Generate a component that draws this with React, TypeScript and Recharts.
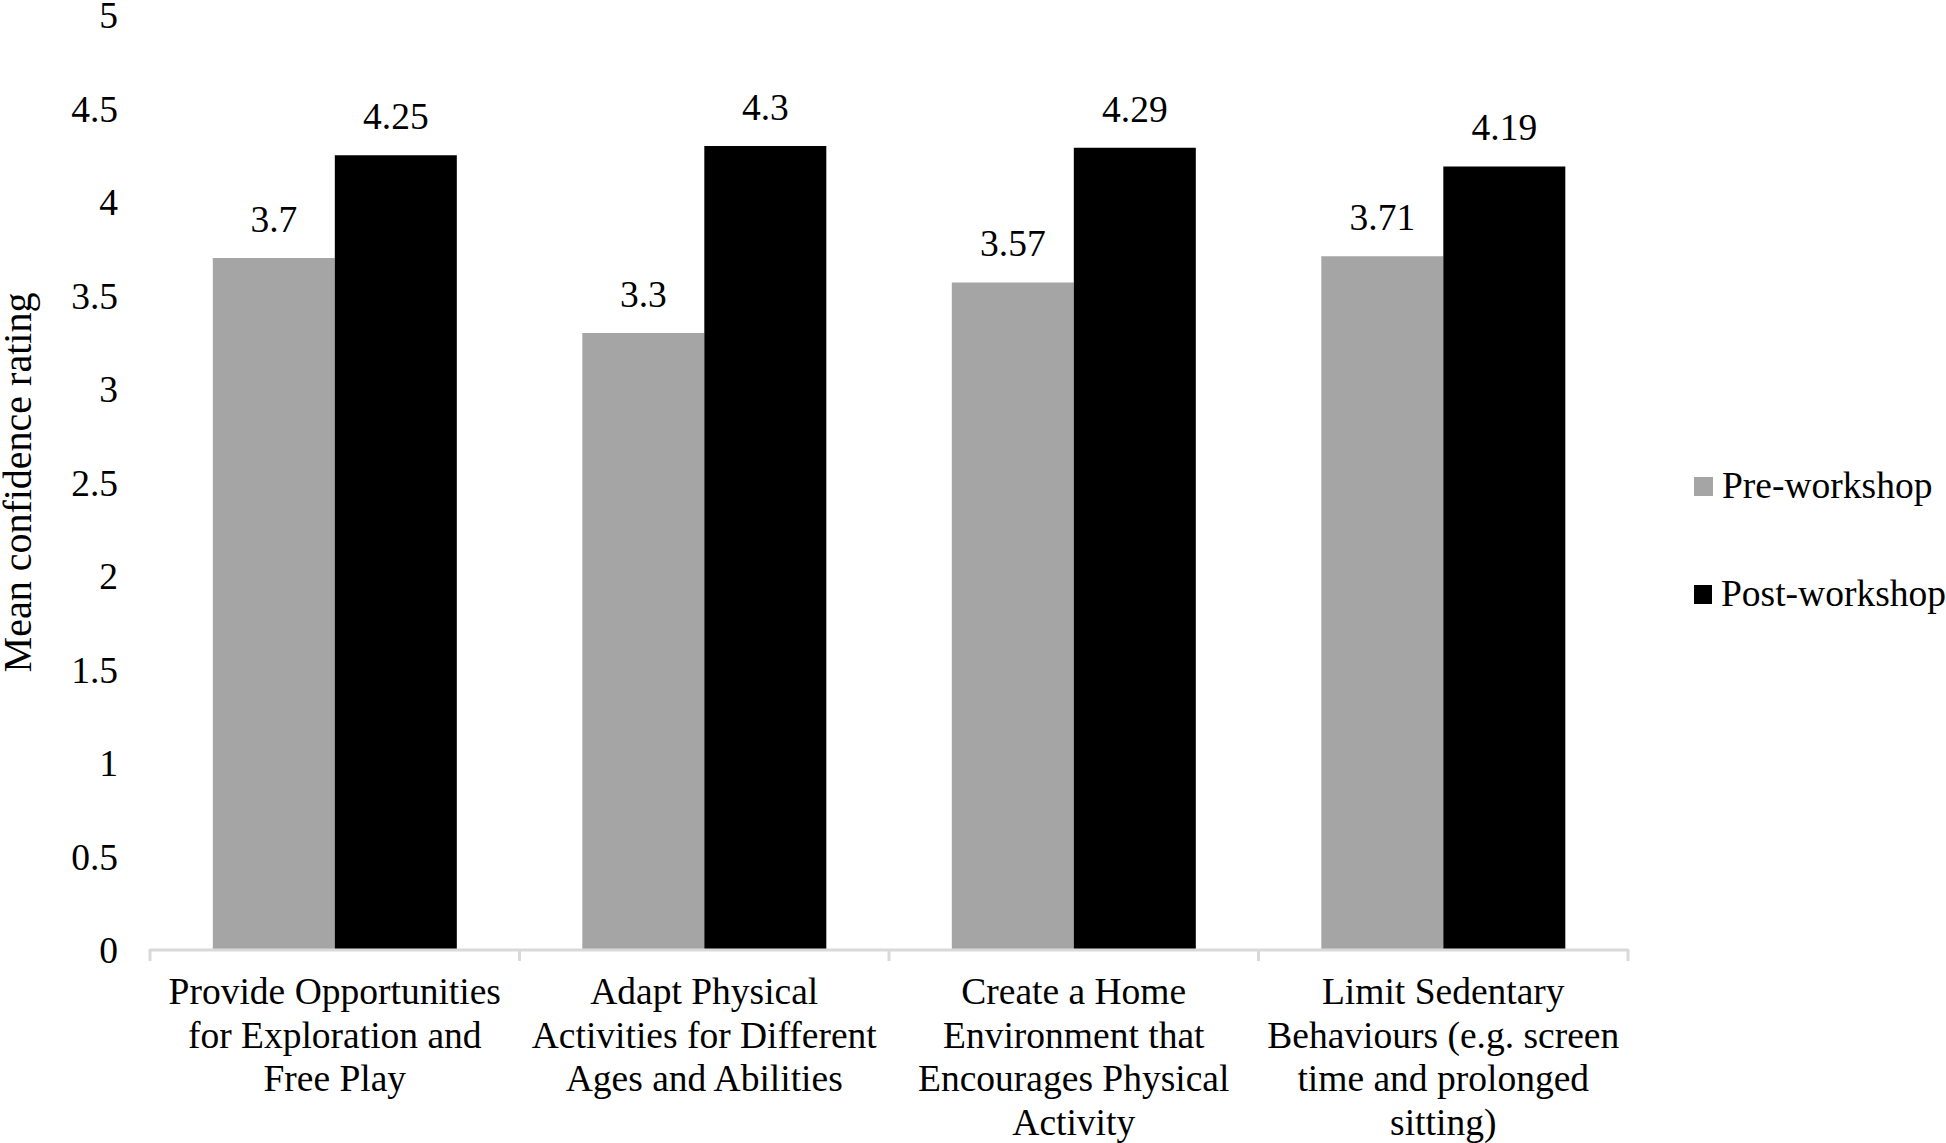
import React from "react";
import { BarChart, Bar, XAxis, YAxis, LabelList, Legend } from "recharts";

const categories = [
  "Provide Opportunities for Exploration and Free Play",
  "Adapt Physical Activities for Different Ages and Abilities",
  "Create a Home Environment that Encourages Physical Activity",
  "Limit Sedentary Behaviours (e.g. screen time and prolonged sitting)",
];
const categoryLines = [
  ["Provide Opportunities", "for Exploration and", "Free Play"],
  ["Adapt Physical", "Activities for Different", "Ages and Abilities"],
  ["Create a Home", "Environment that", "Encourages Physical", "Activity"],
  ["Limit Sedentary", "Behaviours (e.g. screen", "time and prolonged", "sitting)"],
];
const preWorkshop = [3.7, 3.3, 3.57, 3.71];
const postWorkshop = [4.25, 4.3, 4.29, 4.19];
const yTicks = [0, 0.5, 1, 1.5, 2, 2.5, 3, 3.5, 4, 4.5, 5];
const seriesNames = ["Pre-workshop", "Post-workshop"];
const yLabel = "Mean confidence rating";

const data = categories.map((c, i) => ({
  name: c,
  pre: preWorkshop[i],
  post: postWorkshop[i],
}));

const FONT = "'Liberation Serif', 'Times New Roman', serif";
const FS = 37.5;
const FS_TITLE = 40;
const W = 1946;
const H = 1143;
const X_AXIS_H = 193;
const MARGIN = { top: 15, right: 318, bottom: 0, left: 0 };
const Y_AXIS_W = 150;
const AXIS_GRAY = "#d9d9d9";

const XTick = (props: any) => {
  const { x, y, payload, index } = props;
  const plotW = W - MARGIN.left - MARGIN.right - Y_AXIS_W;
  const half =
    payload && typeof payload.offset === "number" && payload.offset > 0
      ? payload.offset
      : plotW / categories.length / 2;
  const lines: string[] = categoryLines[index] || [String(payload.value)];
  const isLast = index === categories.length - 1;
  return (
    <g>
      <line x1={x - half} x2={x - half} y1={y - 1} y2={y + 11} stroke={AXIS_GRAY} strokeWidth={3} />
      {isLast && (
        <line x1={x + half} x2={x + half} y1={y - 1} y2={y + 11} stroke={AXIS_GRAY} strokeWidth={3} />
      )}
      <text x={x} y={y + 54} textAnchor="middle" fill="#000" fontSize={FS} fontFamily={FONT}>
        {lines.map((l, i) => (
          <tspan key={i} x={x} dy={i === 0 ? 0 : 43.5}>
            {l}
          </tspan>
        ))}
      </text>
    </g>
  );
};

const YLabelContent = (props: any) => {
  const vb = props.viewBox || { x: 0, y: MARGIN.top, height: H - MARGIN.top - X_AXIS_H };
  const cx = 31;
  const cy = vb.y + vb.height / 2;
  return (
    <text
      x={cx}
      y={cy}
      transform={`rotate(-90, ${cx}, ${cy})`}
      textAnchor="middle"
      fill="#000"
      fontSize={FS_TITLE}
      fontFamily={FONT}
    >
      {yLabel}
    </text>
  );
};

const LegendContent = (props: any) => {
  const payload = [...(props.payload || [])].sort(
    (a: any, b: any) => seriesNames.indexOf(a.value) - seriesNames.indexOf(b.value)
  );
  return (
    <div style={{ fontFamily: FONT, fontSize: FS, color: "#000" }}>
      {payload.map((p: any, i: number) => (
        <div
          key={i}
          style={{
            display: "flex",
            alignItems: "center",
            height: 36,
            marginBottom: i === payload.length - 1 ? 0 : 72,
            whiteSpace: "nowrap",
          }}
        >
          <span
            style={{
              display: "inline-block",
              width: 19,
              height: 19,
              background: p.color,
              marginRight: 9,
            }}
          />
          <span style={{ lineHeight: "36px" }}>{p.value}</span>
        </div>
      ))}
    </div>
  );
};

export default function App() {
  return (
    <div style={{ position: "absolute", left: 0, top: 0, width: W, height: H, background: "#fff" }}>
      <BarChart
        width={W}
        height={H}
        data={data}
        margin={MARGIN}
        barCategoryGap="17%"
        barGap={0}
      >
        <XAxis
          dataKey="name"
          height={X_AXIS_H}
          axisLine={{ stroke: AXIS_GRAY, strokeWidth: 3 }}
          tickLine={false}
          tickSize={0}
          tickMargin={0}
          interval={0}
          tick={<XTick />}
        />
        <YAxis
          width={Y_AXIS_W}
          domain={[0, 5]}
          ticks={yTicks}
          axisLine={false}
          tickLine={false}
          tickSize={0}
          tickMargin={32}
          interval={0}
          tick={{ fill: "#000", fontSize: FS, fontFamily: FONT }}
          label={{ content: <YLabelContent /> }}
        />
        <Legend
          layout="vertical"
          align="center"
          verticalAlign="middle"
          content={<LegendContent />}
          wrapperStyle={{ left: 1694, top: 468, width: 252, bottom: "auto", right: "auto" }}
        />
        <Bar dataKey="pre" name={seriesNames[0]} fill="#a5a5a5" isAnimationActive={false}>
          <LabelList dataKey="pre" position="top" offset={26} fill="#000" fontSize={FS} fontFamily={FONT} />
        </Bar>
        <Bar dataKey="post" name={seriesNames[1]} fill="#000000" isAnimationActive={false}>
          <LabelList dataKey="post" position="top" offset={26} fill="#000" fontSize={FS} fontFamily={FONT} />
        </Bar>
      </BarChart>
    </div>
  );
}
